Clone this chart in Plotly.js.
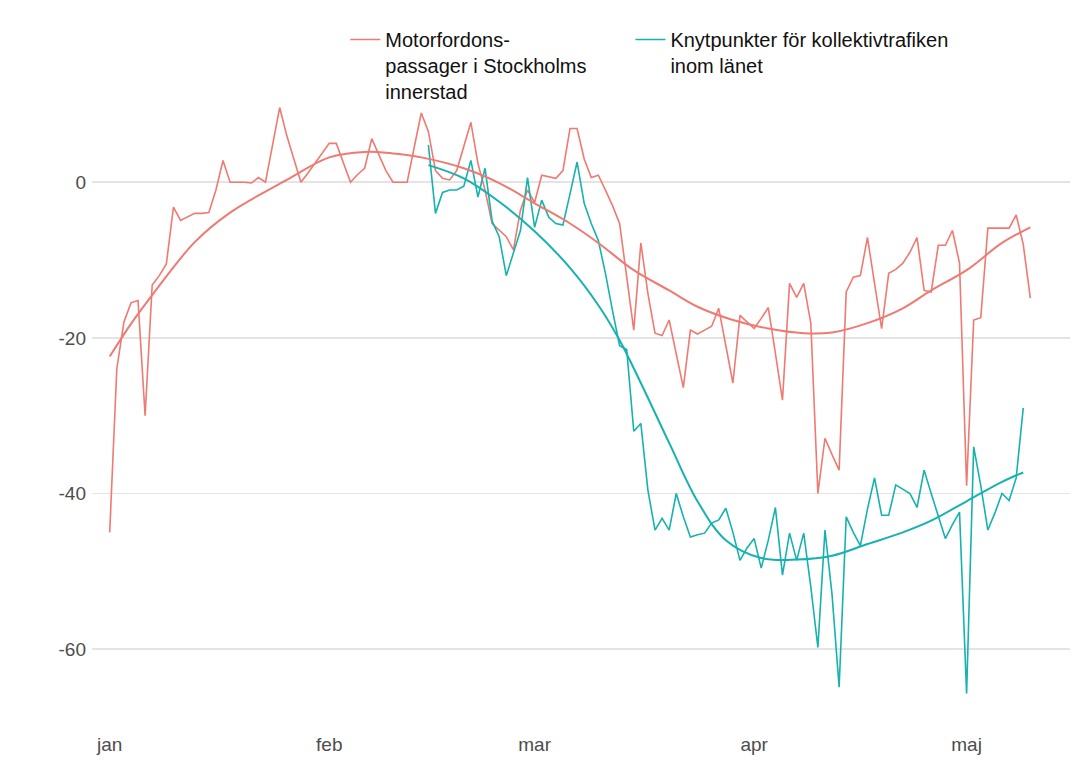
<!DOCTYPE html>
<html>
<head>
<meta charset="utf-8">
<script src="https://cdn.plot.ly/plotly-3.0.1.min.js"></script>
<style>html,body{margin:0;padding:0;background:#fff;}#chart{width:1074px;height:765px;}</style>
</head>
<body>
<div id="chart"></div>
<script>
// Days counted from 1 January 2020 (day 0)
const monthTickDays = [0, 31, 60, 91, 121];
const monthTickLabels = ['jan', 'feb', 'mar', 'apr', 'maj'];
const yTickValues = [0, -20, -40, -60];

const seriesNames = ['Motorfordons-<br>passager i Stockholms\u00a0\u00a0\u00a0\u00a0\u00a0\u00a0\u00a0<br>innerstad', 'Knytpunkter för kollektivtrafiken<br>inom länet'];

// Motorfordonspassager, daily values from day 0
const redStartDay = 0;
const redValues = [-45,-24,-18,-15.5,-15.2,-30,-13.2,-12,-10.5,-3.2,
 -4.9,-4.5,-4,-4,-3.9,-1,2.8,0,0,0,
 -0.1,0.6,0,5,9.6,6,3,0,1.2,2.5,
 3.8,5,5,2.5,0,1,1.8,5.6,3.5,1.5,
 0,0,0,4.5,8.9,6.5,1.5,0.5,0.3,1.5,
 4.5,7.7,2.4,-1,-5.3,-6.2,-7,-8.7,-3.6,-1,
 -2.6,0.9,0.7,0.5,1.5,6.9,6.9,3,0.6,0.9,
 -1,-3,-5.3,-12,-19,-7.8,-14.3,-19.4,-19.7,-17.7,
 -22,-26.4,-19,-19.5,-19,-18.5,-16.2,-21,-25.8,-17.1,
 -18,-18.8,-17.5,-16.1,-22,-28,-13,-14.8,-13,-18.1,
 -40,-32.9,-35,-37,-14.1,-12.2,-12,-7.1,-13,-18.8,
 -11.7,-11.2,-10.4,-9,-7.1,-13.9,-14.1,-8.1,-8.1,-6.2,
 -10.4,-39,-17.7,-17.4,-5.9,-5.9,-5.9,-5.9,-4.2,-8,
 -14.9];

// Knytpunkter för kollektivtrafiken, daily values from day 45
const tealStartDay = 45;
const tealValues = [4.8,-4,-1.3,-1,-1,-0.5,2.8,-1.9,1.8,-5,
 -7,-12,-9.1,-6.2,0.6,-5.8,-2.3,-4.5,-5.3,-5.5,
 -1.5,2.6,-2.7,-5.3,-7.5,-11.7,-16.5,-21,-21.5,-32,
 -31,-39.6,-44.7,-43.2,-44.7,-40,-43,-45.6,-45.3,-45.1,
 -43.8,-43.4,-41.9,-45,-48.6,-47,-45.8,-49.6,-46,-41.8,
 -50.5,-45.1,-48.6,-45.1,-52,-59.8,-44.7,-53,-64.9,-43,
 -45,-46.7,-42,-38,-42.8,-42.8,-38.9,-39.5,-40,-41.8,
 -37,-40,-43,-45.8,-44,-42.4,-65.7,-34,-39,-44.7,
 -42.5,-40,-40.9,-38,-29];

// Smoothed trends
const redSmoothDays = [0,3,6,12,17,25,31,36,40,44,50,55,60,65,69,74,79,83,88,93,98,102,107,112,116,121,126,130];
const redSmoothValues = [-22.4,-18.2,-14.5,-7.7,-3.9,0.3,3.2,3.9,3.7,3.2,1.8,-0.1,-2.7,-5.3,-7.8,-11.3,-13.9,-16,-17.7,-18.8,-19.4,-19.3,-18.1,-16.2,-13.9,-11.3,-7.8,-5.8];
const tealSmoothDays = [45,50,55,60,65,69,72,75,79,83,87,92,97,102,107,112,116,121,126,129];
const tealSmoothValues = [2.2,0.5,-2.5,-6.3,-11,-15.8,-20.3,-25.8,-33.5,-41,-46,-48.3,-48.5,-48,-46.5,-45,-43.5,-41,-38.5,-37.3];

const RED = '#EE7A72';
const TEAL = '#16B2AE';

const redDays = redValues.map((_, i) => redStartDay + i);
const tealDays = tealValues.map((_, i) => tealStartDay + i);

const traces = [
  {x: redDays, y: redValues, type: 'scatter', mode: 'lines', name: seriesNames[0],
   line: {color: RED, width: 1.6}, legendrank: 1},
  {x: tealDays, y: tealValues, type: 'scatter', mode: 'lines', name: seriesNames[1],
   line: {color: TEAL, width: 1.6}, legendrank: 2},
  {x: redSmoothDays, y: redSmoothValues, type: 'scatter', mode: 'lines', showlegend: false,
   line: {color: RED, width: 2, shape: 'spline', smoothing: 1}},
  {x: tealSmoothDays, y: tealSmoothValues, type: 'scatter', mode: 'lines', showlegend: false,
   line: {color: TEAL, width: 2, shape: 'spline', smoothing: 1}}
];

const tickFont = {family: '"Liberation Sans Narrow", "Liberation Sans", Arial, sans-serif', size: 19, color: '#4d4d4d'};

const layout = {
  width: 1074, height: 765,
  margin: {l: 92, r: 4, t: 78, b: 42},
  paper_bgcolor: '#ffffff', plot_bgcolor: '#ffffff',
  showlegend: true,
  legend: {
    orientation: 'h', x: 0.259, xanchor: 'left', y: 1.09, yanchor: 'top',
    valign: 'top',
    font: {family: '"Liberation Sans", Arial, sans-serif', size: 20, color: '#111111'},
    bgcolor: 'rgba(255,255,255,0)', traceorder: 'normal'
  },
  xaxis: {
    range: [-2.5, 135.6], tickmode: 'array', tickvals: monthTickDays, ticktext: monthTickLabels,
    showgrid: false, zeroline: false, showline: false, ticks: '', tickfont: tickFont, ticklabelstandoff: 8
  },
  yaxis: {
    range: [-69.5, 13.4], tickmode: 'array', tickvals: yTickValues, ticktext: yTickValues.map(String),
    showgrid: true, gridcolor: '#e4e4e4', gridwidth: 1.6, zeroline: false, showline: false, ticks: '',
    tickfont: tickFont, ticklabelstandoff: 5
  }
};

Plotly.newPlot('chart', traces, layout, {displayModeBar: false, staticPlot: true});
</script>
</body>
</html>
